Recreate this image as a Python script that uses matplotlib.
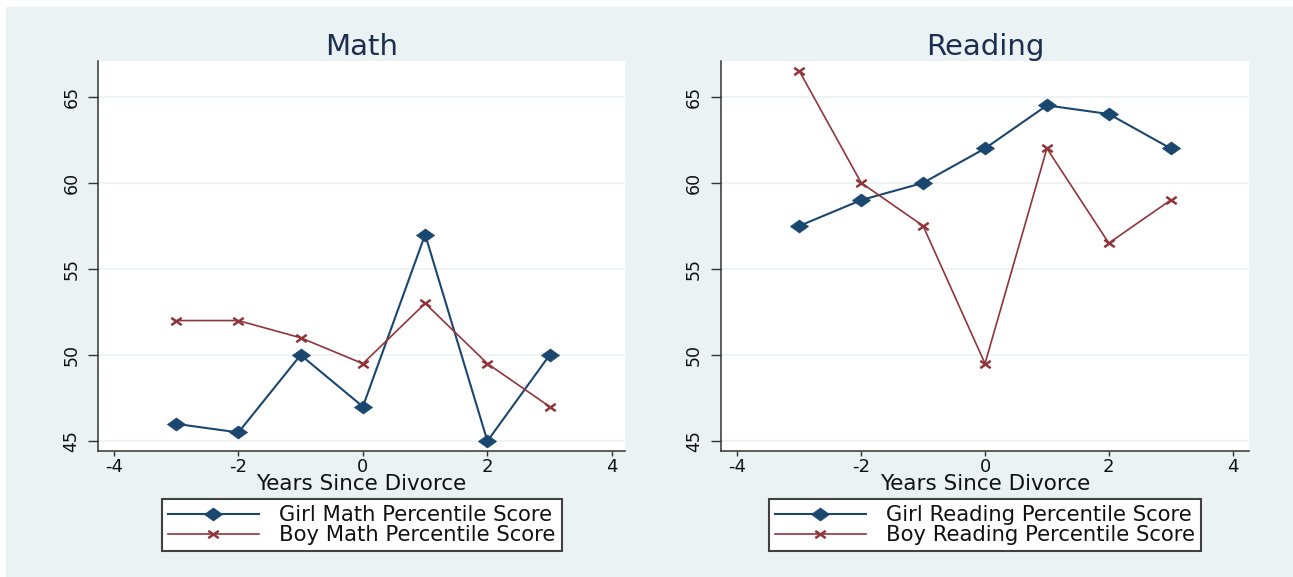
import matplotlib
matplotlib.use("Agg")
import matplotlib.pyplot as plt
from matplotlib.patches import Rectangle
from matplotlib.path import Path
import numpy as np

plt.rcParams['font.family'] = ['DejaVu Sans']
plt.rcParams['axes.unicode_minus'] = False

# ---- data ----
years = [-3, -2, -1, 0, 1, 2, 3]
girl_math = [46, 45.5, 50, 47, 57, 45, 50]
boy_math = [52, 52, 51, 49.5, 53, 49.5, 47]
girl_reading = [57.5, 59, 60, 62, 64.5, 64, 62]
boy_reading = [66.5, 60, 57.5, 49.5, 62, 56.5, 59]
xticks = [-4, -2, 0, 2, 4]
yticks = [45, 50, 55, 60, 65]
titles = ["Math", "Reading"]
girl_labels = ["Girl Math Percentile Score", "Girl Reading Percentile Score"]
boy_labels = ["Boy Math Percentile Score", "Boy Reading Percentile Score"]
xlabel = "Years Since Divorce"

# ---- style ----
W, H = 1293, 577
BG = "#EAF2F3"
NAVY = "#1a476f"
MAROON = "#90353b"
AXC = "#333333"

diamond = Path([(-1, 0), (0, 0.72), (1, 0), (0, -0.72), (-1, 0)],
               [Path.MOVETO, Path.LINETO, Path.LINETO, Path.LINETO, Path.CLOSEPOLY])
cross = Path([(-1, -0.7), (1, 0.7), (-1, 0.7), (1, -0.7)],
             [Path.MOVETO, Path.LINETO, Path.MOVETO, Path.LINETO])

fig = plt.figure(figsize=(W / 100, H / 100), dpi=100, facecolor="white")
bgrect = Rectangle((6 / W, 0), 1 - 6 / W, (H - 7) / H,
                   transform=fig.transFigure, facecolor=BG,
                   edgecolor="none", zorder=-10)
fig.add_artist(bgrect)

panels = [
    dict(left=98.3, right=625, xlim=(-4.25, 4.21), girl=girl_math, boy=boy_math),
    dict(left=720.7, right=1249, xlim=(-4.27, 4.265), girl=girl_reading, boy=boy_reading),
]
top_px, bot_px = 61, 450.7

for i, p in enumerate(panels):
    ax = fig.add_axes([p["left"] / W, 1 - bot_px / H,
                       (p["right"] - p["left"]) / W, (bot_px - top_px) / H])
    ax.set_zorder(1)
    ax.set_facecolor("white")
    ax.set_xlim(*p["xlim"])
    ax.set_ylim(44.44, 67.08)
    for s in ["top", "right"]:
        ax.spines[s].set_visible(False)
    for s in ["left", "bottom"]:
        ax.spines[s].set_color(AXC)
        ax.spines[s].set_linewidth(1.1)
    ax.set_xticks(xticks)
    ax.set_yticks(yticks)
    ax.yaxis.grid(True, color=BG, linewidth=1.2)
    ax.set_axisbelow(True)
    ax.tick_params(axis="x", length=3.6, width=1, color=AXC, pad=2.0,
                   labelsize=13, labelcolor="#111111")
    ax.tick_params(axis="y", length=7.2, width=1, color=AXC, pad=5.5,
                   labelsize=12.5, labelcolor="#111111", labelrotation=90)
    for lab in ax.get_yticklabels():
        lab.set_va("center")

    lg, = ax.plot(years, p["girl"], color=NAVY, linewidth=1.5, marker=diamond,
                  markersize=13, markeredgewidth=0.5, markerfacecolor=NAVY,
                  markeredgecolor=NAVY, label=girl_labels[i], zorder=3)
    lb, = ax.plot(years, p["boy"], color=MAROON, linewidth=1.2, marker=cross,
                  markersize=7.5, markeredgewidth=1.8, markeredgecolor=MAROON,
                  label=boy_labels[i], zorder=3)

    ax.set_title(titles[i], fontsize=21, color="#1c2e4f", pad=4.5)
    ax.set_xlabel(xlabel, fontsize=15.5, color="#111111")
    ax.xaxis.set_label_coords(0.5, -0.0855)
    ax.xaxis.label.set_va("center")

    cx = (p["left"] + p["right"]) / 2 / W
    leg = ax.legend(handles=[lg, lb], loc="center", bbox_to_anchor=(cx, 1 - 525 / H),
                    bbox_transform=fig.transFigure, frameon=True, fancybox=False,
                    edgecolor="#404040", framealpha=1, facecolor="white",
                    handlelength=4.3, handletextpad=0.95, borderpad=0.3,
                    labelspacing=0.0, fontsize=15.2, numpoints=1)
    leg.get_frame().set_linewidth(1.5)
    for t in leg.get_texts():
        t.set_color("#111111")

fig.savefig("out.png", dpi=100, facecolor="white")
